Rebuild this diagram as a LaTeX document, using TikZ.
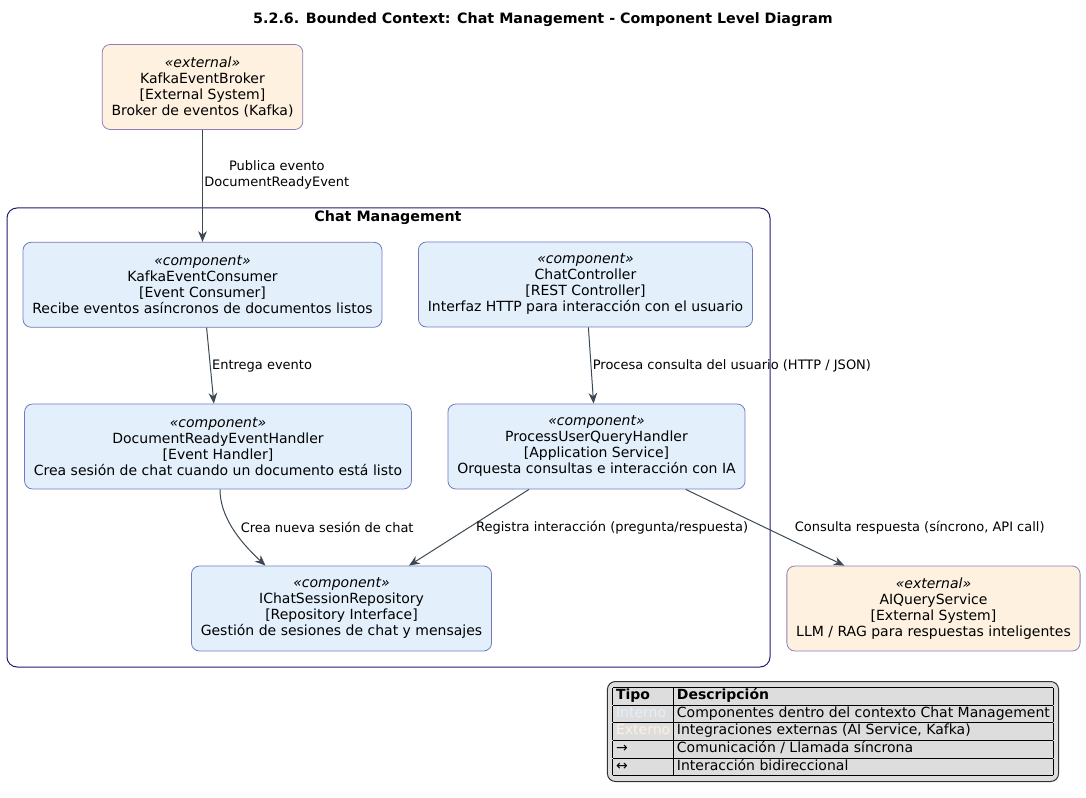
\documentclass[tikz,border=0pt]{standalone}
\usepackage{fontspec}
\setmainfont{DejaVu Sans}
\usetikzlibrary{arrows.meta,positioning}
\definecolor{compfill}{HTML}{E3F0FC}
\definecolor{compline}{HTML}{6F7CC0}
\definecolor{extfill}{HTML}{FEF1DF}
\definecolor{extline}{HTML}{8E7EB8}
\definecolor{ctxline}{HTML}{1F1F73}
\definecolor{pilcol}{HTML}{3D4A55}
\definecolor{legfill}{HTML}{DDDDDD}
\tikzset{
    %Define standard arrow tip
    >={Stealth[length=8pt,width=6.5pt,inset=2.5pt]},
    %Define style for components
    komp/.style={
           rectangle,
           rounded corners=6pt,
           draw=compline, fill=compfill, line width=0.6pt,
           align=center,
           minimum height=63.75pt,
           inner xsep=7pt,
           font=\fontsize{10.5}{12}\selectfont},
    %Define style for external systems
    ekst/.style={
           komp,
           draw=extline, fill=extfill},
    % Define arrow style
    pil/.style={
           ->,
           draw=pilcol,
           line width=0.75pt},
    pilnavn/.style={
           font=\fontsize{9.75}{12}\selectfont,
           inner sep=1pt,
           align=center}
}
\begin{document}
\begin{tikzpicture}[x=0.75pt, y=-0.75pt]
         \useasboundingbox[fill=white] (0,0) rectangle (1086,798);
         %title
          \node[font=\bfseries\fontsize{10.7}{12}\selectfont] (title) at (543,19.5)
          {5.2.6. Bounded Context: Chat Management - Component Level Diagram};
         %bounded context
          \draw[ctxline, rounded corners=7.5pt, line width=0.75pt] (7,208) rectangle (770,667);
          \node[font=\bfseries\fontsize{10.7}{12}\selectfont] (ctx) at (388,217.5) {Chat Management};
         %nodes
          \node[ekst] (broker) at (202.5,87)
          {\textit{«external»}\\KafkaEventBroker\\{[External System]}\\Broker de eventos (Kafka)};
          \node[komp, below=84pt of broker] (consumer)
          {\textit{«component»}\\KafkaEventConsumer\\{[Event Consumer]}\\Recibe eventos asíncronos de documentos listos};
          \node[komp] (controller) at (585.5,284.5)
          {\textit{«component»}\\ChatController\\{[REST Controller]}\\Interfaz HTTP para interacción con el usuario};
          \node[komp] (handler) at (218,446.5)
          {\textit{«component»}\\DocumentReadyEventHandler\\{[Event Handler]}\\Crea sesión de chat cuando un documento está listo};
          \node[komp] (process) at (596.5,446.5)
          {\textit{«component»}\\ProcessUserQueryHandler\\{[Application Service]}\\Orquesta consultas e interacción con IA};
          \node[komp] (repo) at (341.5,608.5)
          {\textit{«component»}\\IChatSessionRepository\\{[Repository Interface]}\\Gestión de sesiones de chat y mensajes};
          \node[ekst] (aiq) at (933.5,608.5)
          {\textit{«external»}\\AIQueryService\\{[External System]}\\LLM / RAG para respuestas inteligentes};
         %legend
          \node[draw=black!80, fill=legfill, rounded corners=6pt, line width=0.75pt, inner sep=4pt,
                font=\fontsize{10.5}{12.5}\selectfont] (legend) at (833,731.5)
          {\setlength{\tabcolsep}{2.5pt}\setlength{\arrayrulewidth}{0.75pt}%
           \begin{tabular}{|l|l|}\hline
           \textbf{Tipo} & \textbf{Descripción}\\\hline
           \textcolor{compfill}{Interno} & Componentes dentro del contexto Chat Management\\\hline
           \textcolor{extfill}{Externo} & Integraciones externas (AI Service, Kafka)\\\hline
           → & Comunicación / Llamada síncrona\\\hline
           ↔ & Interacción bidireccional\\\hline
           \end{tabular}};
         %edges
          \coordinate (handlerout) at ([xshift=1.5pt]handler.south);
          \coordinate (repoin) at ([xshift=-57pt]repo.north);
          \draw[pil] (broker) -- node[pilnavn, right, pos=0.4] {Publica evento\\DocumentReadyEvent} (consumer);
          \draw[pil] (consumer) -- node[pilnavn, right] {Entrega evento} (handler);
          \draw[pil] (controller) -- node[pilnavn, right] {Procesa consulta del usuario (HTTP / JSON)} (process);
          \draw[pil] (handlerout) .. controls +(0,26) and +(-28,-26) ..
                node[pilnavn, right, pos=0.5, xshift=5pt] {Crea nueva sesión de chat} (repoin);
          \draw[pil] (process) -- node[pilnavn, right, xshift=4pt] {Registra interacción (pregunta/respuesta)} (repo);
          \draw[pil] (process) -- node[pilnavn, right, xshift=21pt] {Consulta respuesta (síncrono, API call)} (aiq);
        \end{tikzpicture}
\end{document}
